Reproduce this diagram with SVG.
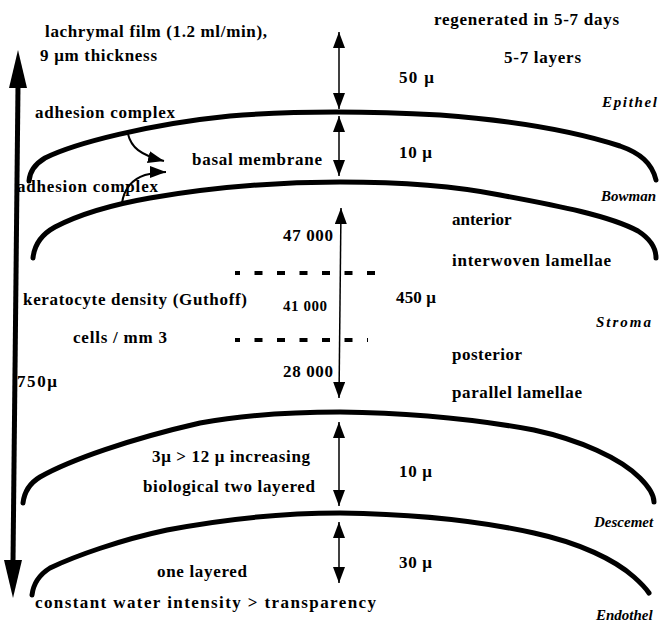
<svg xmlns="http://www.w3.org/2000/svg" width="668" height="627" viewBox="0 0 668 627">
<style>
.t{font-family:"Liberation Serif","Times New Roman",serif;font-weight:bold;font-size:17px;fill:#000}
.i{font-style:italic;font-size:15px}
.s{font-size:15px}
.layer{fill:none;stroke:#000;stroke-width:5;stroke-linecap:round;stroke-linejoin:round}
.dim{fill:none;stroke:#000;stroke-width:1.5}
.dash{fill:none;stroke:#000;stroke-width:4;stroke-dasharray:8 14.5;stroke-dashoffset:3}
</style>
<defs>
<marker id="ah" viewBox="0 0 16 12" markerWidth="16" markerHeight="12" refX="16" refY="6" orient="auto-start-reverse" markerUnits="userSpaceOnUse">
<path d="M0,0 L16,6 L0,12 z" fill="#000"/>
</marker>
</defs>
<rect width="668" height="627" fill="#fff"/>

<g id="epithel">
<path class="layer" d="M29,181 Q30,167 45,158 C75,143 150,124 230,116 C290,111 370,111 440,115 C520,121 580,133 620,146 C640,153 652,163 656,180"/>
<text class="t i" x="602" y="107" textLength="55">Epithel</text>
<text class="t" x="434" y="25" textLength="185">regenerated in 5-7 days</text>
<text class="t" x="504" y="63" textLength="77">5-7 layers</text>
<text class="t" x="399" y="83" textLength="35">50 μ</text>
<text class="t" x="45" y="37" textLength="222">lachrymal film (1.2 ml/min),</text>
<text class="t" x="40" y="61" textLength="117">9 μm thickness</text>
<text class="t" x="35" y="118" textLength="140">adhesion complex</text>
</g>

<g id="bowman">
<path class="layer" d="M33,258 Q35,238 55,227 C80,214 110,205 150,198 C220,186 290,182 340,182 C410,182 460,187 500,195 C560,206 610,216 638,231 C652,240 656,250 656,258"/>
<text class="t i" x="601" y="201">Bowman</text>
<text class="t" x="399" y="158" textLength="33">10 μ</text>
<text class="t" x="192" y="165" textLength="130">basal membrane</text>
<text class="t" x="17" y="192" textLength="141">adhesion complex</text>
</g>

<g id="stroma">
<path class="dash" d="M235,273 L375,273"/>
<path class="dash" d="M235,340 L368,340"/>
<text class="t i" x="596" y="327" textLength="55">Stroma</text>
<text class="t" x="452" y="225">anterior</text>
<text class="t" x="452" y="266" textLength="159">interwoven lamellae</text>
<text class="t" x="396" y="303" textLength="40">450 μ</text>
<text class="t" x="452" y="360" textLength="70">posterior</text>
<text class="t" x="452" y="398" textLength="130">parallel lamellae</text>
<text class="t" x="283" y="241" textLength="50">47 000</text>
<text class="t s" x="283" y="311" textLength="44">41 000</text>
<text class="t" x="283" y="377" textLength="50">28 000</text>
<text class="t" x="23" y="305" textLength="224">keratocyte density (Guthoff)</text>
<text class="t" x="73" y="343" textLength="94">cells / mm 3</text>
<text class="t" x="17" y="387" textLength="40">750μ</text>
</g>

<g id="descemet">
<path class="layer" d="M23,503 Q25,486 40,477 C70,460 130,439 200,423 C250,414 300,412 340,412 C420,413 480,420 534,430 C580,440 620,458 640,478 C650,488 654,495 654,502"/>
<text class="t i" x="594" y="527">Descemet</text>
<text class="t" x="152" y="462" textLength="158">3μ &gt; 12 μ increasing</text>
<text class="t" x="143" y="492" textLength="172">biological two layered</text>
<text class="t" x="399" y="477" textLength="33">10 μ</text>
</g>

<g id="endothel">
<path class="layer" d="M32,595 Q34,578 50,568 C75,556 120,540 167,530 C230,518 290,513 340,513 C420,514 480,521 534,533 C580,543 615,560 634,577 C643,585 647,590 649,593"/>
<text class="t i" x="596" y="620">Endothel</text>
<text class="t" x="399" y="568" textLength="33">30 μ</text>
<text class="t" x="157" y="577" textLength="90">one layered</text>
<text class="t" x="35" y="608" textLength="341">constant water intensity &gt; transparency</text>
</g>

<g id="connectors">
<line class="dim" x1="339" y1="32" x2="339" y2="109" marker-start="url(#ah)" marker-end="url(#ah)"/>
<line class="dim" x1="339" y1="116" x2="339" y2="176" marker-start="url(#ah)" marker-end="url(#ah)"/>
<line class="dim" x1="341" y1="208" x2="339" y2="398" marker-start="url(#ah)" marker-end="url(#ah)"/>
<line class="dim" x1="339" y1="422" x2="339" y2="506" marker-start="url(#ah)" marker-end="url(#ah)"/>
<line class="dim" x1="339" y1="522" x2="339" y2="583" marker-start="url(#ah)" marker-end="url(#ah)"/>
<path class="dim" d="M128,134 C131,147 140,155 164,161" marker-end="url(#ah)" style="stroke-width:2"/>
<path class="dim" d="M122,203 C124,190 130,180 145,175 C152,173 160,172 166,172" marker-end="url(#ah)" style="stroke-width:2"/>
<line x1="18" y1="86" x2="13" y2="562" stroke="#000" stroke-width="5"/>
<path d="M18,50 L27,88 L9,88 z" fill="#000"/>
<path d="M13,598 L4,560 L22,560 z" fill="#000"/>
</g>
</svg>
